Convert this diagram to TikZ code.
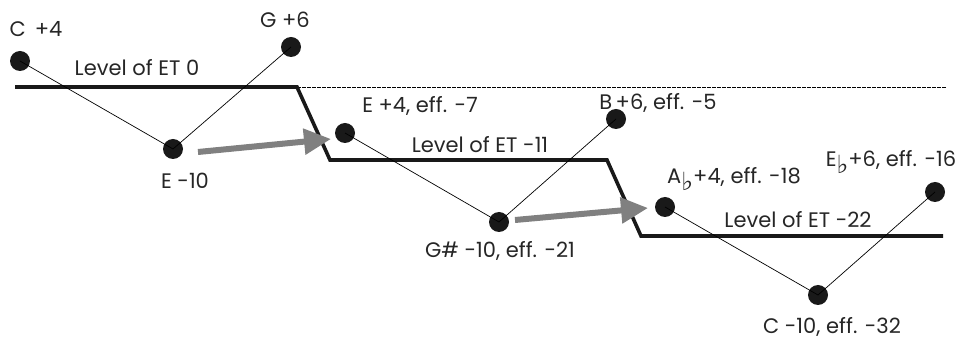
\documentclass[tikz,border=0pt]{standalone}
\usepackage{fontspec}
\setmainfont{Poppins}
\newfontfamily\symfont{DejaVu Sans}
\usetikzlibrary{arrows.meta}
\newcommand{\flt}{\raisebox{-0.55ex}{\symfont\fontsize{25}{25}\selectfont\char"266D}}
\begin{document}
\begin{tikzpicture}[x=1pt,y=-1pt,
  dot/.style={circle,fill=black!90,inner sep=0pt,minimum size=20pt},
  lbl/.style={font=\fontsize{21}{21}\selectfont,text=black!85,inner sep=0pt},
  thin/.style={line width=0.7pt},
  level/.style={line width=3.6pt,black!90},
  gar/.style={line width=6pt,black!50,-{Triangle[length=27pt,width=25pt]}},
  dotline/.style={line width=1pt,dash pattern=on 4pt off 1pt}]
\useasboundingbox (0,0) rectangle (970,344);
% dotted reference line
\coordinate (d0) at (297,88);
\coordinate (d1) at (946,88);
\draw[dotline] (d0) -- (d1);
% level line
\coordinate (l0) at (15,87);
\coordinate (l1) at (297,87);
\coordinate (l2) at (330,160);
\coordinate (l3) at (607,160);
\coordinate (l4) at (641,236);
\coordinate (l5) at (943,236);
\draw[level,line join=miter] (l0) -- (l1) -- (l2) -- (l3) -- (l4) -- (l5);
% dots
\node[dot] (c1) at (20,61) {};
\node[dot] (e1) at (173,149) {};
\node[dot] (g1) at (291,47) {};
\node[dot] (e2) at (345,133) {};
\node[dot] (gs) at (499,222) {};
\node[dot] (b2) at (616,119) {};
\node[dot] (ab) at (665,207) {};
\node[dot] (c3) at (818,295) {};
\node[dot] (eb) at (935,192) {};
% thin lines
\draw[thin] (c1.center) -- (e1.center) -- (g1.center);
\draw[thin] (e2.center) -- (gs.center) -- (b2.center);
\draw[thin] (ab.center) -- (c3.center) -- (eb.center);
% gray arrows
\coordinate (a1s) at (198,152);
\coordinate (a1e) at (331,139);
\coordinate (a2s) at (515,220);
\coordinate (a2e) at (648,208);
\draw[gar] (a1s) -- (a1e);
\draw[gar] (a2s) -- (a2e);
% labels
\node[lbl] (tc1) at (36,29) {C\, +4};
\node[lbl] (tg1) at (285,20) {G +6};
\node[lbl] (te1) at (185,181) {E -10};
\node[lbl] (tl0) at (137,68) {Level of ET 0};
\node[lbl] (te2) at (420,106) {E +4, eff. -7};
\node[lbl] (tb2) at (658,103) {B\,+6, eff. -5};
\node[lbl] (tl1) at (480,145) {Level of ET -11};
\node[lbl] (tgs) at (500,251) {G\# -10, eff. -21};
\node[lbl] (tab) at (734,179) {A\flt+4, eff. -18};
\node[lbl] (teb) at (891,162) {E\flt+6, eff. -16};
\node[lbl] (tl2) at (798,220) {Level of ET -22};
\node[lbl] (tc3) at (832,327) {C -10, eff. -32};
\end{tikzpicture}
\end{document}
